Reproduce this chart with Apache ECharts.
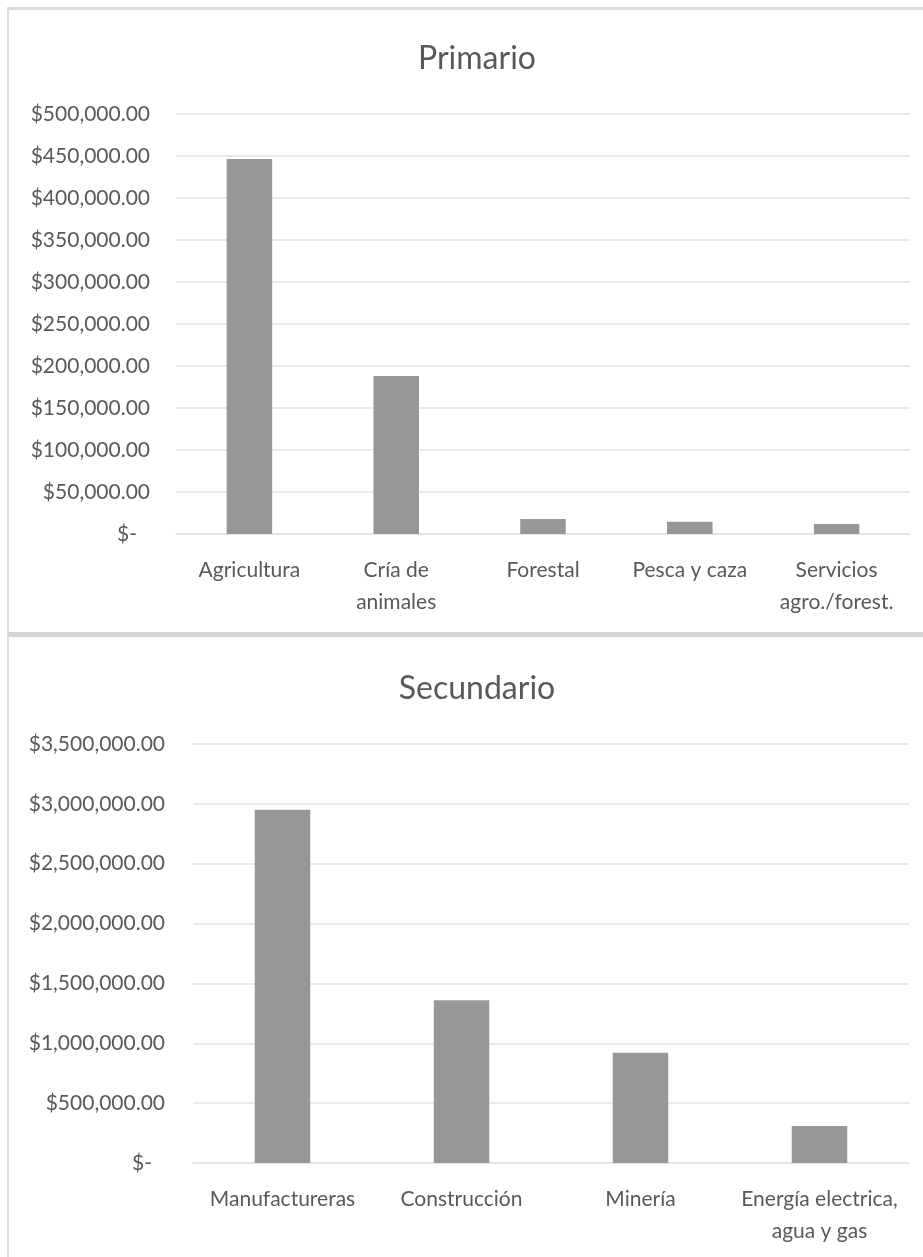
<!DOCTYPE html>
<html>
<head>
<meta charset="utf-8">
<script src="https://cdn.jsdelivr.net/npm/echarts@6/dist/echarts.min.js"></script>
<style>
  html, body { margin: 0; padding: 0; background: #ffffff; }
  #chart { width: 923px; height: 1257px; }
</style>
</head>
<body>
<div id="chart"></div>
<script>
// Sector primario
const primarioCats = ['Agricultura', 'Cría de\nanimales', 'Forestal', 'Pesca y caza', 'Servicios\nagro./forest.'];
const primarioVals = [446500, 188000, 18000, 14700, 11800];
const primarioTicks = { min: 0, max: 500000, interval: 50000 };

// Sector secundario
const secundarioCats = ['Manufactureras', 'Construcción', 'Minería', 'Energía electrica,\nagua y gas'];
const secundarioVals = [2950000, 1360000, 920000, 310000];
const secundarioTicks = { min: 0, max: 3500000, interval: 500000 };

const FONT = 'Lato, "Open Sans", sans-serif';
const TEXT = '#595959';
const GRID_LINE = '#e3e3e3';
const BAR = '#979797';

// Accounting-style currency labels: "$-" for zero, "$1,234.00" otherwise
function money(v) {
  if (v === 0) return '{z|$-}';
  return '$' + v.toLocaleString('en-US', { minimumFractionDigits: 2, maximumFractionDigits: 2 });
}

function yAxis(gridIndex, ticks, margin) {
  return {
    type: 'value', gridIndex,
    min: ticks.min, max: ticks.max, interval: ticks.interval,
    axisLine: { show: false }, axisTick: { show: false },
    splitLine: { lineStyle: { color: GRID_LINE, width: 1.5 } },
    axisLabel: {
      formatter: money, color: TEXT, fontFamily: FONT, fontSize: 21, margin,
      rich: { z: { color: TEXT, fontFamily: FONT, fontSize: 21, padding: [0, 13, 0, 0] } }
    }
  };
}

function xAxis(gridIndex, cats) {
  return {
    type: 'category', gridIndex, data: cats,
    axisLine: { lineStyle: { color: GRID_LINE, width: 1.5 } },
    axisTick: { show: false },
    axisLabel: { color: TEXT, fontFamily: FONT, fontSize: 21, lineHeight: 32, margin: 20, interval: 0 }
  };
}

const chart = echarts.init(document.getElementById('chart'), null, { renderer: 'canvas' });
chart.setOption({
  backgroundColor: '#ffffff',
  animation: false,
  title: [
    { text: 'Primario', left: 472, top: 38, textAlign: 'center',
      textStyle: { color: TEXT, fontFamily: FONT, fontSize: 32, fontWeight: 'normal' } },
    { text: 'Secundario', left: 472, top: 668, textAlign: 'center',
      textStyle: { color: TEXT, fontFamily: FONT, fontSize: 32, fontWeight: 'normal' } }
  ],
  grid: [
    { left: 176, right: 13, top: 114, height: 420 },
    { left: 193, right: 14, top: 744, height: 419 }
  ],
  xAxis: [xAxis(0, primarioCats), xAxis(1, secundarioCats)],
  yAxis: [yAxis(0, primarioTicks, 26), yAxis(1, secundarioTicks, 28)],
  series: [
    { type: 'bar', xAxisIndex: 0, yAxisIndex: 0, data: primarioVals, barWidth: '31%',
      itemStyle: { color: BAR } },
    { type: 'bar', xAxisIndex: 1, yAxisIndex: 1, data: secundarioVals, barWidth: '31%',
      itemStyle: { color: BAR } }
  ],
  // Chart-area frames: top edge, left edge and the divider between the two panels
  graphic: [
    { type: 'rect', silent: true, shape: { x: 8, y: 7, width: 915, height: 3 }, style: { fill: '#dcdcdc' } },
    { type: 'rect', silent: true, shape: { x: 7, y: 7, width: 2, height: 1250 }, style: { fill: '#dedede' } },
    { type: 'rect', silent: true, shape: { x: 8, y: 632, width: 915, height: 5 }, style: { fill: '#d4d4d4' } }
  ]
});
</script>
</body>
</html>
